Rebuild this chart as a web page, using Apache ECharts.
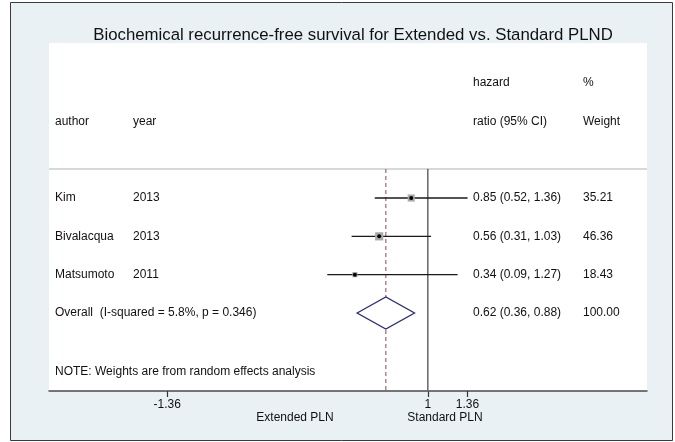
<!DOCTYPE html>
<html>
<head>
<meta charset="utf-8">
<script src="https://cdn.jsdelivr.net/npm/echarts@6/dist/echarts.min.js"></script>
<style>
html,body{margin:0;padding:0;background:#fff;}
#chart{width:675px;height:442px;}
</style>
</head>
<body>
<div id="chart"></div>
<script>
// ---- data ----
const authors = ['Kim', 'Bivalacqua', 'Matsumoto'];
const years = ['2013', '2013', '2011'];
const hrEst = [0.85, 0.56, 0.34];
const hrLow = [0.52, 0.31, 0.09];
const hrHigh = [1.36, 1.03, 1.27];
const weights = [35.21, 46.36, 18.43];
const pooled = [0.62, 0.36, 0.88];        // estimate, low, high
const pooledWeight = [100.00];
const pooledLabel = ['Overall  (I-squared = 5.8%, p = 0.346)'];
const tickValues = [-1.36, 1, 1.36];
const nullValue = [1];

// ---- layout ----
const FONT = '"Liberation Sans", Arial, Helvetica, sans-serif';
const TXT = '#111111';
const FS = 12;
const xMin = -2.43, xMax = 2.985;
const yMin = -4.044, yMax = 5.035;
const ruleRow = -0.76;

const chart = echarts.init(document.getElementById('chart'), null, {renderer: 'canvas'});

const studyData = authors.map((a, i) => [i, hrEst[i], hrLow[i], hrHigh[i], weights[i]]);
const pooledRow = authors.length;

const option = {
  backgroundColor: '#ffffff',
  animation: false,
  title: {
    text: 'Biochemical recurrence-free survival for Extended vs. Standard PLND',
    left: 348, top: 22, textAlign: 'center',
    textStyle: {fontFamily: FONT, fontSize: 16.8, fontWeight: 'normal', color: '#111111'}
  },
  grid: {left: 49, right: 28, top: 43, bottom: 51, containLabel: false},
  xAxis: {
    type: 'value', min: xMin, max: xMax,
    splitLine: {show: false},
    axisLine: {show: true, onZero: false, lineStyle: {color: '#4a4a4a', width: 1.5}},
    axisTick: {show: true, customValues: tickValues, length: 6, lineStyle: {color: '#333', width: 1.2}},
    axisLabel: {show: true, customValues: tickValues, formatter: v => String(v),
      fontFamily: FONT, fontSize: FS, color: TXT, margin: 8}
  },
  yAxis: {type: 'value', inverse: true, min: yMin, max: yMax, show: false},
  series: [
    { // table rule line
      type: 'custom', silent: true, z: 1,
      data: [[ruleRow]],
      encode: {y: 0},
      renderItem: (params, api) => {
        const a = api.coord([xMin, api.value(0)]);
        const b = api.coord([xMax, api.value(0)]);
        return {type: 'line', shape: {x1: a[0], y1: a[1], x2: b[0], y2: b[1]},
          style: {stroke: '#d8d8d8', lineWidth: 2}};
      }
    },
    { // null line
      type: 'custom', silent: true, z: 2,
      data: nullValue.map(v => [v]),
      encode: {x: 0},
      renderItem: (params, api) => {
        const a = api.coord([api.value(0), ruleRow]);
        const b = api.coord([api.value(0), yMax]);
        return {type: 'line', shape: {x1: a[0], y1: a[1], x2: b[0], y2: b[1] + 1},
          style: {stroke: '#6e6e6e', lineWidth: 1.6}};
      }
    },
    { // pooled estimate dashed line
      type: 'custom', silent: true, z: 2,
      data: [[pooled[0]]],
      encode: {x: 0},
      renderItem: (params, api) => {
        const a = api.coord([api.value(0), ruleRow]);
        const b = api.coord([api.value(0), yMax]);
        return {type: 'line', shape: {x1: a[0], y1: a[1], x2: b[0], y2: b[1]},
          style: {stroke: '#a8646a', lineWidth: 1.2, lineDash: [4, 3]}};
      }
    },
    { // studies
      type: 'custom', z: 3,
      data: studyData,
      encode: {x: [1, 2, 3], y: 0},
      renderItem: (params, api) => {
        const row = api.value(0);
        const e = api.coord([api.value(1), row]);
        const l = api.coord([api.value(2), row]);
        const h = api.coord([api.value(3), row]);
        const s = 1.2 * Math.sqrt(api.value(4));
        return {type: 'group', children: [
          {type: 'line', shape: {x1: l[0], y1: l[1], x2: h[0], y2: h[1]}, style: {stroke: '#1a1a1a', lineWidth: 1.3}},
          {type: 'rect', shape: {x: e[0] - s / 2, y: e[1] - s / 2, width: s, height: s}, style: {fill: '#a9a9a9'}},
          {type: 'circle', shape: {cx: e[0], cy: e[1], r: 2}, style: {fill: '#000'}}
        ]};
      }
    },
    { // pooled diamond
      type: 'custom', z: 3,
      data: [[pooledRow, pooled[0], pooled[1], pooled[2]]],
      encode: {x: [1, 2, 3], y: 0},
      renderItem: (params, api) => {
        const row = api.value(0);
        const hh = 0.42;
        const pts = [
          api.coord([api.value(2), row]),
          api.coord([api.value(1), row - hh]),
          api.coord([api.value(3), row]),
          api.coord([api.value(1), row + hh])
        ];
        return {type: 'polygon', shape: {points: pts},
          style: {fill: '#ffffff', stroke: '#2b2b7d', lineWidth: 1.3}};
      }
    }
  ]
};
chart.setOption(option);

function rowY(r) { return chart.convertToPixel({gridIndex: 0}, [0, r])[1]; }
function txt(x, y, s, align) {
  return {type: 'text', x: x, y: y, silent: true, z: 10,
    style: {text: s, fontFamily: FONT, fontSize: FS, fill: TXT,
      textAlign: align || 'left', textVerticalAlign: 'middle'}};
}
const fmt = v => v.toFixed(2);
const g = [];
g.push({type: 'rect', z: -10, silent: true, shape: {x: 10.5, y: 2.5, width: 662, height: 438},
  style: {fill: '#e9f1f5', stroke: '#3a3a3a', lineWidth: 1}});
g.push({type: 'rect', z: -9, silent: true, shape: {x: 49, y: 43, width: 598, height: 348},
  style: {fill: '#ffffff'}});
// headers
g.push(txt(473, rowY(-3), 'hazard'));
g.push(txt(583, rowY(-3), '%'));
g.push(txt(55, rowY(-2), 'author'));
g.push(txt(133, rowY(-2), 'year'));
g.push(txt(473, rowY(-2), 'ratio (95% CI)'));
g.push(txt(583, rowY(-2), 'Weight'));
authors.forEach((a, i) => {
  const y = rowY(i);
  g.push(txt(55, y, a));
  g.push(txt(133, y, years[i]));
  g.push(txt(473, y, fmt(hrEst[i]) + ' (' + fmt(hrLow[i]) + ', ' + fmt(hrHigh[i]) + ')'));
  g.push(txt(583, y, fmt(weights[i])));
});
g.push(txt(55, rowY(pooledRow), pooledLabel[0]));
g.push(txt(473, rowY(pooledRow), fmt(pooled[0]) + ' (' + fmt(pooled[1]) + ', ' + fmt(pooled[2]) + ')'));
g.push(txt(583, rowY(pooledRow), pooledWeight[0].toFixed(2)));
g.push(txt(55, rowY(4.52), 'NOTE: Weights are from random effects analysis'));
g.push(txt(295, 418, 'Extended PLN', 'center'));
g.push(txt(445, 418, 'Standard PLN', 'center'));
chart.setOption({graphic: {elements: g}});
</script>
</body>
</html>
